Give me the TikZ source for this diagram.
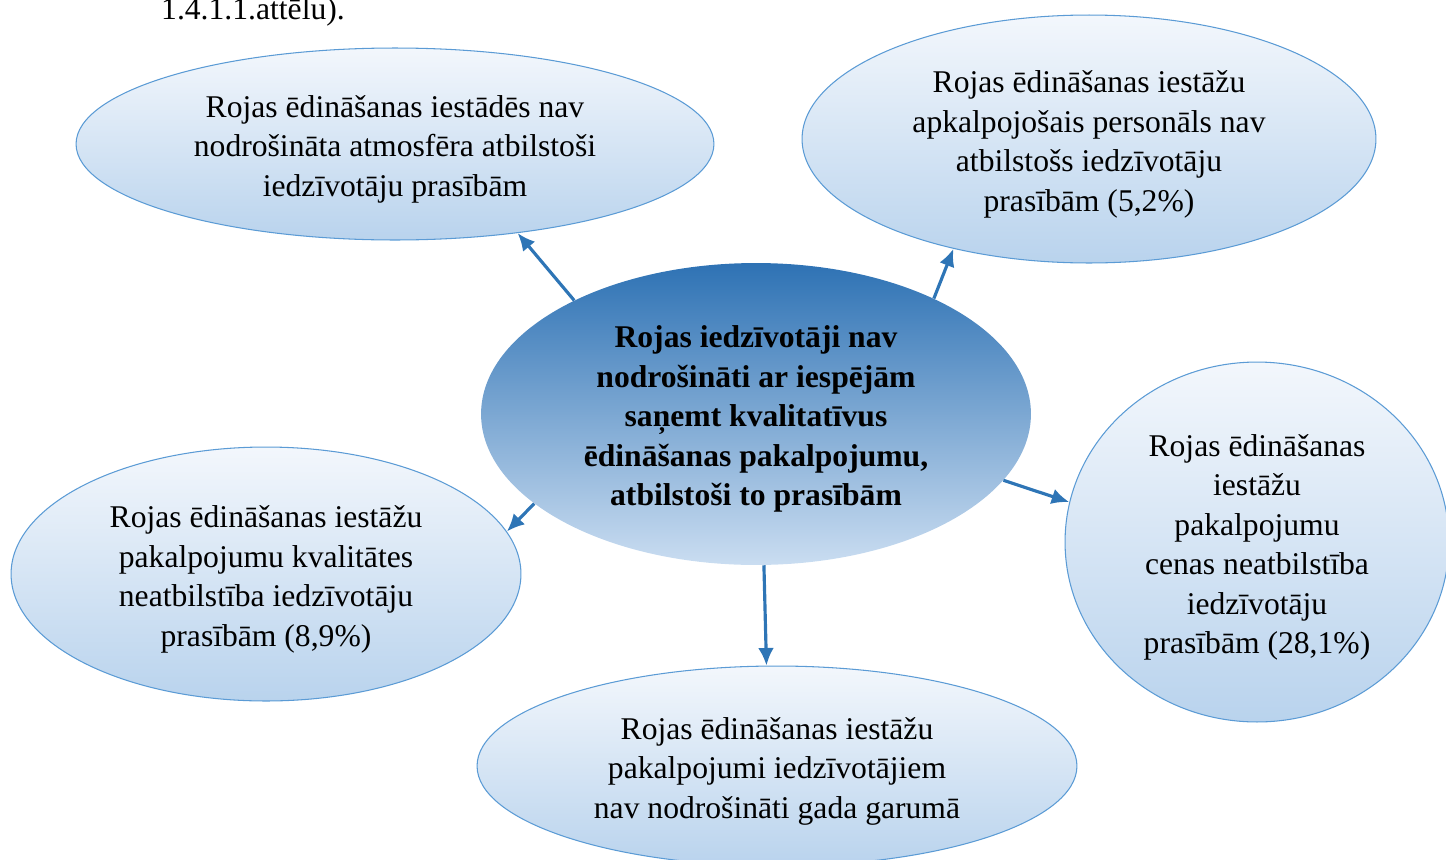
\documentclass[tikz,border=0pt]{standalone}
\usepackage{fontspec}
\setmainfont{Liberation Serif}
\usepackage{tikz}
\usetikzlibrary{shapes.geometric,arrows.meta}

\definecolor{rimblue}{HTML}{5B9BD5}
\definecolor{arrowblue}{HTML}{2E75B6}
\definecolor{paletop}{HTML}{F3F7FC}
\definecolor{palebot}{HTML}{B9D3ED}
\definecolor{coretop}{HTML}{2E72B4}
\definecolor{corebot}{HTML}{CADDF1}

\newcommand{\lowr}{\rule{0pt}{18.5pt}}

\tikzset{
	bubble/.style={ellipse, draw=rimblue, line width=0.6pt, inner sep=0pt, align=center,
		top color=paletop, bottom color=palebot, font=\fontsize{18}{22.5}\selectfont},
	core/.style={ellipse, inner sep=0pt, align=center,
		top color=coretop, bottom color=corebot, font=\fontsize{18}{22.5}\selectfont\bfseries},
	link/.style={->, draw=arrowblue, line width=1.8pt}
}

\begin{document}
\begin{tikzpicture}[>={Latex[length=10pt,width=9pt]}, x=0.02cm, y=-0.02cm]
			%%%	Help Lines
%			\draw [thin, help lines] (0,0) grid[step=100] (1446,859);
			\useasboundingbox (0,0) rectangle (1446,859);
			%%%	Disegno
			\node[anchor=base west, font=\fontsize{18}{22.5}\selectfont] (ref) at (155,19) {1.4.1.1.attēlu).};
			\node[core, minimum width=11cm, minimum height=6.04cm] (c) at (756,414)
				{\lowr Rojas iedzīvotāji nav\\nodrošināti ar iespējām\\saņemt kvalitatīvus\\ēdināšanas pakalpojumu,\\atbilstoši to prasībām};
			\node[bubble, minimum width=12.76cm, minimum height=3.84cm] (atm) at (395,144)
				{\lowr Rojas ēdināšanas iestādēs nav\\nodrošināta atmosfēra atbilstoši\\iedzīvotāju prasībām};
			\node[bubble, minimum width=11.48cm, minimum height=4.96cm] (pers) at (1089,139)
				{\lowr Rojas ēdināšanas iestāžu\\apkalpojošais personāls nav\\atbilstošs iedzīvotāju\\prasībām (5,2\%)};
			\node[bubble, minimum width=10.2cm, minimum height=5.08cm] (kval) at (266,574)
				{\lowr Rojas ēdināšanas iestāžu\\pakalpojumu kvalitātes\\neatbilstība iedzīvotāju\\prasībām (8,9\%)};
			\node[bubble, minimum width=7.68cm, minimum height=7.2cm] (cena) at (1257,542)
				{\lowr Rojas ēdināšanas\\iestāžu\\pakalpojumu\\cenas neatbilstība\\iedzīvotāju\\prasībām (28,1\%)};
			\node[bubble, minimum width=12cm, minimum height=4cm] (gads) at (777,766)
				{\lowr Rojas ēdināšanas iestāžu\\pakalpojumi iedzīvotājiem\\nav nodrošināti gada garumā};
			%%%	Frecce
			\draw[link] (c.148.6) -- (atm.-36.1);
			\draw[link] (c.33.4) -- (pers.219.2);
			\draw[link] (c.202.9) -- (kval.10.8);
			\draw[link] (c.273.4) -- (gads.96.8);
			\draw[link] (c.-15.9) -- (cena.168.6);
		\end{tikzpicture}
\end{document}
